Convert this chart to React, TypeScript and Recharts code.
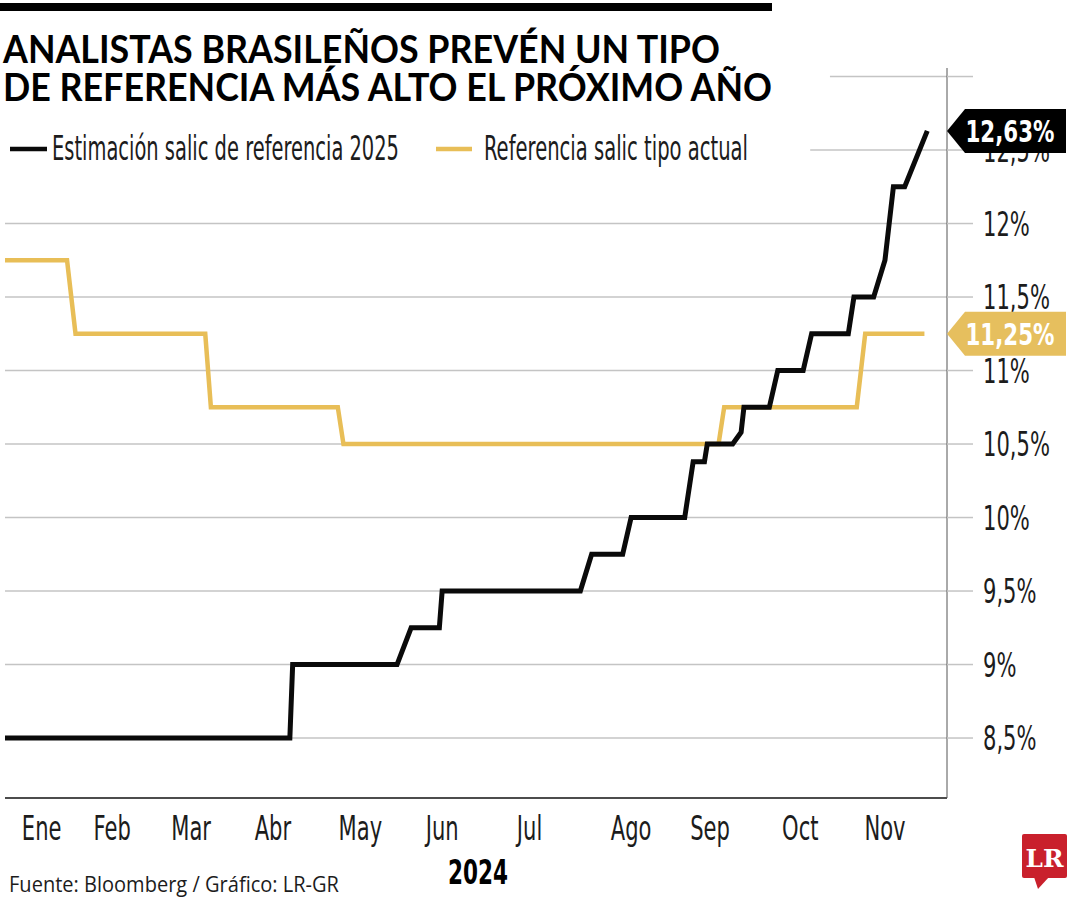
import React from 'react';
import {
  LineChart,
  Line,
  XAxis,
  YAxis,
  CartesianGrid,
  ReferenceLine,
  ReferenceDot
} from 'recharts';

// días del año 2024 (0 = 1 de enero) y valores
const estimacionDias = [6, 107, 108, 145, 150, 160, 161, 210, 214, 225, 228, 247, 250, 254, 255, 264, 267, 268, 277, 280, 289, 292, 305, 307, 314, 318, 321, 325, 333];
const estimacionValores = [8.5, 8.5, 9, 9, 9.25, 9.25, 9.5, 9.5, 9.75, 9.75, 10, 10, 10.38, 10.38, 10.5, 10.5, 10.58, 10.75, 10.75, 11, 11, 11.25, 11.25, 11.5, 11.5, 11.75, 12.25, 12.25, 12.63];

const actualDias = [6, 28, 31, 77, 79, 124, 126, 259, 261, 308, 311, 332];
const actualValores = [11.75, 11.75, 11.25, 11.25, 10.75, 10.75, 10.5, 10.5, 10.75, 10.75, 11.25, 11.25];

const seriesNames = ['Estimación salic de referencia 2025', 'Referencia salic tipo actual'];
const seriesColors = ['#0a0a0a', '#E8BE57'];

const monthTicks = [19, 44, 72, 101, 132, 161, 192, 228, 256, 288, 318];
const monthLabels = ['Ene', 'Feb', 'Mar', 'Abr', 'May', 'Jun', 'Jul', 'Ago', 'Sep', 'Oct', 'Nov'];

const yTicks = [8.5, 9, 9.5, 10, 10.5, 11, 11.5, 12, 12.5, 13];
const fullGrid = [8.5, 9, 9.5, 10, 10.5, 11, 11.5, 12];

const NARROW = "'Liberation Sans Narrow', 'Arial Narrow', 'DejaVu Sans Condensed', sans-serif";
const SX = 0.71; // no hay fuente condensada real, se estrecha a mano

const estimacionData = estimacionDias.map((d, i) => ({ d, v: estimacionValores[i] }));
const actualData = actualDias.map((d, i) => ({ d, v: actualValores[i] }));

const fmtPct = (v: number) => `${String(v).replace('.', ',')}%`;

const NarrowText = ({ x, y, anchor = 'start', size = 33, weight = 'normal', fill = '#1c1c1c', children }: any) => (
  <text
    transform={`translate(${x} ${y}) scale(${SX} 1)`}
    textAnchor={anchor}
    fontFamily={NARROW}
    fontSize={size}
    fontWeight={weight}
    fill={fill}
  >
    {children}
  </text>
);

const XTick = ({ x, y, payload }: any) => {
  const idx = monthTicks.indexOf(payload.value);
  return (
    <NarrowText x={x} y={y + 42} anchor="middle">
      {monthLabels[idx]}
    </NarrowText>
  );
};

const YTick = ({ x, y, payload }: any) => {
  if (payload.value === 13) return <g />;
  return (
    <NarrowText x={x} y={y + 12}>
      {fmtPct(payload.value)}
    </NarrowText>
  );
};

const Tag = ({ cx, cy, fill, text }: any) => (
  <g>
    <polygon
      points={`${cx},${cy} ${cx + 18},${cy - 22} ${cx + 119},${cy - 22} ${cx + 119},${cy + 22} ${cx + 18},${cy + 22}`}
      fill={fill}
    />
    <text
      x={cx + 63}
      y={cy + 11}
      textAnchor="middle"
      fontFamily={NARROW}
      fontWeight="bold"
      fontSize={31}
      fill="#fff"
      textLength={89}
      lengthAdjust="spacingAndGlyphs"
    >
      {text}
    </text>
  </g>
);

export default function App() {
  const lastEst = estimacionValores[estimacionValores.length - 1];
  const lastAct = actualValores[actualValores.length - 1];

  return (
    <div style={{ position: 'absolute', left: 0, top: 0, width: 1080, height: 900, background: '#fff', overflow: 'hidden' }}>
      <LineChart width={1080} height={900} margin={{ top: 68, right: 13, bottom: 42, left: 5 }}>
        <CartesianGrid horizontal vertical={false} horizontalValues={fullGrid} stroke="#c4c4c4" strokeWidth={1.5} />
        <XAxis
          dataKey="d"
          type="number"
          domain={[6, 340]}
          ticks={monthTicks}
          tick={<XTick />}
          tickLine={false}
          tickSize={0}
          tickMargin={0}
          height={60}
          axisLine={{ stroke: '#111', strokeWidth: 1.5 }}
          allowDataOverflow
        />
        <YAxis
          orientation="right"
          type="number"
          domain={[8.092, 13.058]}
          ticks={yTicks}
          tick={<YTick />}
          width={120}
          tickSize={26}
          tickMargin={10}
          tickLine={{ stroke: '#c4c4c4', strokeWidth: 1.5 }}
          axisLine={{ stroke: '#555', strokeWidth: 1 }}
          allowDataOverflow
        />
        <ReferenceLine segment={[{ x: 291.5, y: 12.5 }, { x: 340, y: 12.5 }]} stroke="#c4c4c4" strokeWidth={1.5} />
        <ReferenceLine segment={[{ x: 298.5, y: 13 }, { x: 340, y: 13 }]} stroke="#c4c4c4" strokeWidth={1.5} />
        <Line
          data={actualData}
          dataKey="v"
          name={seriesNames[1]}
          stroke={seriesColors[1]}
          strokeWidth={4.5}
          dot={false}
          activeDot={false}
          isAnimationActive={false}
        />
        <Line
          data={estimacionData}
          dataKey="v"
          name={seriesNames[0]}
          stroke={seriesColors[0]}
          strokeWidth={5}
          dot={false}
          activeDot={false}
          isAnimationActive={false}
        />
        <ReferenceDot
          x={340}
          y={lastEst}
          ifOverflow="visible"
          zIndex={2000}
          shape={(p: any) => <Tag cx={p.cx} cy={p.cy} fill="#000" text={fmtPct(lastEst)} />}
        />
        <ReferenceDot
          x={340}
          y={lastAct}
          ifOverflow="visible"
          zIndex={2000}
          shape={(p: any) => <Tag cx={p.cx} cy={p.cy} fill="#E6BF5E" text={fmtPct(lastAct)} />}
        />
      </LineChart>

      <svg width={1080} height={900} style={{ position: 'absolute', left: 0, top: 0, pointerEvents: 'none' }}>
        <rect x={0} y={3} width={772} height={8} fill="#000" />
        <text x={3} y={63} fontFamily="Lato, 'Open Sans', sans-serif" fontWeight="bold" fontSize={38} fill="#000" textLength={717} lengthAdjust="spacingAndGlyphs">
          ANALISTAS BRASILEÑOS PREVÉN UN TIPO
        </text>
        <text x={3} y={101} fontFamily="Lato, 'Open Sans', sans-serif" fontWeight="bold" fontSize={38} fill="#000" textLength={769} lengthAdjust="spacingAndGlyphs">
          DE REFERENCIA MÁS ALTO EL PRÓXIMO AÑO
        </text>

        <line x1={10} y1={149} x2={47} y2={149} stroke={seriesColors[0]} strokeWidth={4.5} />
        <text x={52} y={160} fontFamily={NARROW} fontSize={33} fill="#1c1c1c" textLength={347} lengthAdjust="spacingAndGlyphs">
          {seriesNames[0]}
        </text>
        <line x1={436} y1={149} x2={472} y2={149} stroke={seriesColors[1]} strokeWidth={4.5} />
        <text x={484} y={160} fontFamily={NARROW} fontSize={33} fill="#1c1c1c" textLength={264} lengthAdjust="spacingAndGlyphs">
          {seriesNames[1]}
        </text>

        <text x={9} y={892} fontFamily="'Open Sans', 'Noto Sans', sans-serif" fontSize={22} fill="#1c1c1c" textLength={330} lengthAdjust="spacingAndGlyphs">
          Fuente: Bloomberg / Gráfico: LR-GR
        </text>
        <text x={448} y={884} fontFamily={NARROW} fontWeight="bold" fontSize={33} fill="#000" textLength={60} lengthAdjust="spacingAndGlyphs">
          2024
        </text>

        <rect x={1022} y={834} width={45} height={44} rx={2} fill="#C9202C" />
        <polygon points="1034,877 1049,877 1038,889" fill="#C9202C" />
        <text x={1044.5} y={867} textAnchor="middle" fontFamily="'DejaVu Serif', 'Liberation Serif', serif" fontWeight="bold" fontSize={25} fill="#fff" textLength={38} lengthAdjust="spacingAndGlyphs">
          LR
        </text>
      </svg>
    </div>
  );
}
